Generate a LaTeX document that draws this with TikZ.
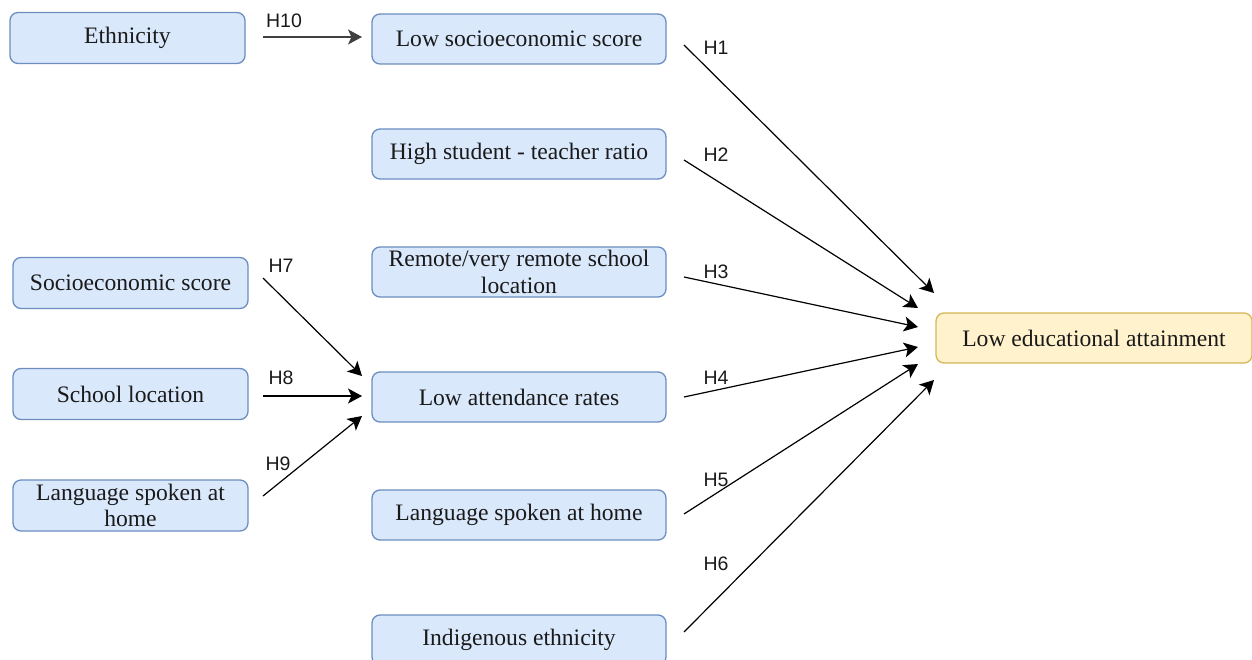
\documentclass[tikz,border=0pt]{standalone}
\usepackage{fontspec}
\setmainfont{Liberation Serif}
\newfontfamily\labelfont{Liberation Sans}
\usetikzlibrary{arrows.meta}
\definecolor{bluefill}{HTML}{DAE8FC}
\definecolor{blueline}{HTML}{6C8EBF}
\definecolor{yelfill}{HTML}{FFF2CC}
\definecolor{yelline}{HTML}{D6B656}
\definecolor{txt}{HTML}{1A1A1A}
\tikzset{
  box/.style={draw=blueline, fill=bluefill, line width=1.3pt, rounded corners=8pt,
    align=center, text=txt, font=\fontsize{23.6}{26.5}\selectfont, inner sep=0pt},
  leftbox/.style={box, minimum width=235pt, minimum height=51pt},
  midbox/.style={box, minimum width=294pt, minimum height=50pt},
  goalbox/.style={box, draw=yelline, fill=yelfill, minimum width=316pt, minimum height=50pt},
  link/.style={draw=black, line width=1.2pt, -{Stealth[length=14pt,width=15pt,inset=3.5pt]}},
  lab/.style={font=\labelfont\fontsize{19.5}{21}\selectfont, text=txt, inner sep=0pt}
}
\begin{document}
\begin{tikzpicture}[x=1pt,y=-1pt]
\useasboundingbox (0,0) rectangle (1252,660);
% left column
\node[leftbox] (eth) at (127.5,38) {Ethnicity};
\node[leftbox] (ses) at (130.5,283) {Socioeconomic score};
\node[leftbox] (loc) at (130.5,394) {School location};
\node[leftbox] (lang1) at (130.5,505.5) {Language spoken at\\home};
% middle column
\node[midbox] (lses) at (519,39) {Low socioeconomic score};
\node[midbox] (ratio) at (519,154) {High student - teacher ratio};
\node[midbox] (remote) at (519,272) {Remote/very remote school\\location};
\node[midbox] (att) at (519,397) {Low attendance rates};
\node[midbox] (lang2) at (519,515) {Language spoken at home};
\node[midbox] (ind) at (519,640) {Indigenous ethnicity};
% outcome
\node[goalbox] (out) at (1094,338) {Low educational attainment};
% free ends
\coordinate (s10) at (263,37);  \coordinate (e10) at (362,37);
\coordinate (s7) at (263,278);  \coordinate (e7) at (362,376);
\coordinate (s8) at (263,396);  \coordinate (e8) at (362,396);
\coordinate (s9) at (263,496);  \coordinate (e9) at (362,416);
\coordinate (s1) at (684,45);   \coordinate (e1) at (934,293);
\coordinate (s2) at (684,160);  \coordinate (e2) at (918,308);
\coordinate (s3) at (684,277);  \coordinate (e3) at (918,327);
\coordinate (s4) at (684,397);  \coordinate (e4) at (918,347);
\coordinate (s5) at (684,514);  \coordinate (e5) at (918,364);
\coordinate (s6) at (684,632);  \coordinate (e6) at (934,380);
\draw[link, draw=black!75, fill=black] (s10) -- (e10);
\draw[link] (s7) -- (e7);
\draw[link] (s8) -- (e8);
\draw[link] (s9) -- (e9);
\draw[link] (s1) -- (e1);
\draw[link] (s2) -- (e2);
\draw[link] (s3) -- (e3);
\draw[link] (s4) -- (e4);
\draw[link] (s5) -- (e5);
\draw[link] (s6) -- (e6);
% labels
\node[lab] (h10) at (284,21) {H10};
\node[lab] (h7) at (281,266) {H7};
\node[lab] (h8) at (281,378) {H8};
\node[lab] (h9) at (278,464) {H9};
\node[lab] (h1) at (716,48) {H1};
\node[lab] (h2) at (716,155) {H2};
\node[lab] (h3) at (716,272) {H3};
\node[lab] (h4) at (716,378) {H4};
\node[lab] (h5) at (716,480) {H5};
\node[lab] (h6) at (716,564) {H6};
\end{tikzpicture}
\end{document}
